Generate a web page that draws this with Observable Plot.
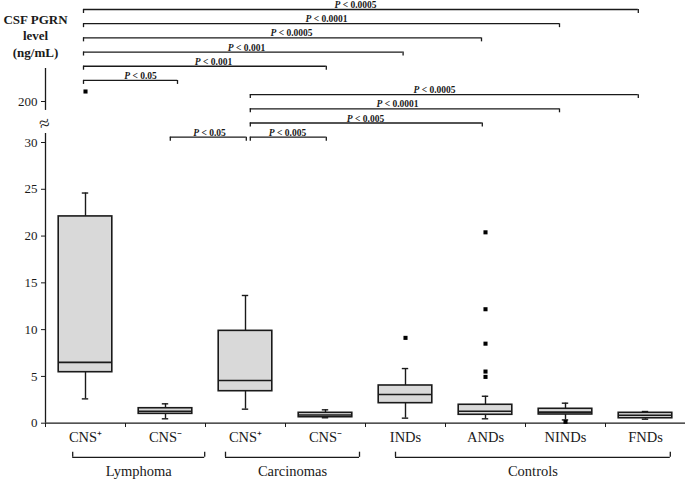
<!DOCTYPE html>
<html><head><meta charset="utf-8">
<script src="https://cdn.jsdelivr.net/npm/d3@7"></script>
<script src="https://cdn.jsdelivr.net/npm/@observablehq/plot@0.6"></script>
<style>
body{margin:0;background:#fff}
#wrap{position:relative;width:685px;height:479px}
#wrap svg{position:absolute;left:0;top:0}
</style></head><body><div id="wrap"></div>
<script>
// categories along the x axis
const categories = ["CNS⁺","CNS⁻","CNS⁺","CNS⁻","INDs","ANDs","NINDs","FNDs"];
// box plot statistics (ng/mL)
const whiskerLow  = [2.6, 0.47, 1.5, 0.58, 0.54, 0.47, 0.35, 0.43];
const q1          = [5.45, 1.0, 3.42, 0.64, 2.14, 0.9, 0.93, 0.53];
const median      = [6.5, 1.28, 4.56, 0.88, 3.07, 1.28, 1.18, 0.85];
const q3          = [22.1, 1.6, 9.87, 1.11, 4.03, 1.97, 1.54, 1.11];
const whiskerHigh = [24.6, 2.07, 13.65, 1.43, 5.84, 2.88, 2.14, 1.25];
// outliers: category index and value
const outlierCategory = [0, 4, 5, 5, 5, 5, 5, 6];
const outlierValue    = [210, 9.12, 20.4, 12.18, 8.5, 5.52, 4.95, 0.15];
// y tick labels (broken axis)
const yTicks = [0, 5, 10, 15, 20, 25, 30, 200];
// groups under the x axis (spans in category units)
const groupNames = ["Lymphoma", "Carcinomas", "Controls"];
const groupStart = [0.34, 2.25, 4.375];
const groupEnd   = [1.99, 3.925, 7.81];
// significance brackets (category units), row from top, label and label position
const bracketStart = [0.475, 0.475, 0.475, 0.475, 0.475, 0.475, 2.56, 2.56, 2.56, 2.56, 1.56];
const bracketEnd   = [7.41, 6.425, 5.45, 4.47, 3.51, 1.65, 7.41, 6.425, 5.46, 3.51, 2.51];
const bracketRow   = [0, 1, 2, 3, 4, 5, 6, 7, 8, 9, 9];
const bracketLabel = ["P < 0.0005","P < 0.0001","P < 0.0005","P < 0.001","P < 0.001","P < 0.05",
                      "P < 0.0005","P < 0.0001","P < 0.005","P < 0.005","P < 0.05"];
const bracketLabelX = [3.875, 3.5125, 3.075, 2.5125, 2.1, 1.1875, 4.8625, 4.4, 4.0, 3.025, 2.05];

const serif = "'Liberation Serif', 'Times New Roman', serif";
const ink = "#1a1a1a";
const idx = d3.range(categories.length);
const boxes = idx.map(i => ({i, low: whiskerLow[i], q1: q1[i], med: median[i], q3: q3[i], high: whiskerHigh[i]}));
const outliers = outlierValue.map((v, k) => ({i: outlierCategory[k], v}));
const groups = groupNames.map((name, k) => ({name, start: groupStart[k], end: groupEnd[k]}));
const brackets = bracketLabel.map((label, k) => ({label, start: bracketStart[k], end: bracketEnd[k], row: bracketRow[k], lx: bracketLabelX[k]}));
const hw = 0.335, cap = 0.04;

const mainChart = Plot.plot({
  width: 685, height: 479,
  marginLeft: 45, marginRight: 0, marginTop: 0, marginBottom: 56,
  style: {fontFamily: serif, fontSize: "13px", color: ink, background: "white"},
  x: {type: "linear", domain: [0, 8], range: [45, 685]},
  y: {type: "linear", domain: [0, 30, 200, 240], range: [422.7, 142, 101, 61]},
  marks: [
    Plot.axisY({ticks: yTicks, tickSize: 4, tickPadding: 4, tickFormat: d => String(d), label: null, fontSize: 13, fontFamily: serif, stroke: ink}),
    Plot.axisX({ticks: d3.range(9), tickSize: 4, tickFormat: () => "", label: null, stroke: ink}),
    Plot.ruleY([0], {x1: 0, x2: 8, stroke: ink, strokeWidth: 1.3}),
    Plot.ruleX([{a: 0, b: 67}, {a: 163, b: 233}], {x: 0, y1: "a", y2: "b", stroke: ink, strokeWidth: 1.3}),
    Plot.text(["≈"], {x: 0, y: 109, text: d => d, fontSize: 19, rotate: -15, fill: ink, dx: -1}),
    // whiskers
    Plot.ruleX(boxes, {x: d => d.i + 0.5, y1: "low", y2: "q1", stroke: ink, strokeWidth: 1.4}),
    Plot.ruleX(boxes, {x: d => d.i + 0.5, y1: "q3", y2: "high", stroke: ink, strokeWidth: 1.4}),
    Plot.ruleY(boxes, {y: "low", x1: d => d.i + 0.5 - cap, x2: d => d.i + 0.5 + cap, stroke: ink, strokeWidth: 1.4}),
    Plot.ruleY(boxes, {y: "high", x1: d => d.i + 0.5 - cap, x2: d => d.i + 0.5 + cap, stroke: ink, strokeWidth: 1.4}),
    // boxes
    Plot.rect(boxes, {x1: d => d.i + 0.5 - hw, x2: d => d.i + 0.5 + hw, y1: "q1", y2: "q3", fill: "#d9d9d9", stroke: ink, strokeWidth: 1.6}),
    Plot.ruleY(boxes, {y: "med", x1: d => d.i + 0.5 - hw, x2: d => d.i + 0.5 + hw, stroke: ink, strokeWidth: 1.6}),
    // outliers
    Plot.dot(outliers, {x: d => d.i + 0.5, y: "v", symbol: "square", r: 2.3, fill: "#000", stroke: null}),
    // category labels
    Plot.text(idx, {x: i => i + 0.5, y: 0, text: i => categories[i], dy: 14, fontSize: 14.5, fill: ink}),
    // group brackets
    Plot.ruleY(groups, {y: -3.65, x1: "start", x2: "end", stroke: ink, strokeWidth: 1.3}),
    Plot.ruleX(groups, {x: "start", y1: -3.1, y2: -3.65, stroke: ink, strokeWidth: 1.3}),
    Plot.ruleX(groups, {x: "end", y1: -3.1, y2: -3.65, stroke: ink, strokeWidth: 1.3}),
    Plot.text(groups, {x: d => (d.start + d.end) / 2, y: -3.65, text: "name", dy: 14, fontSize: 14.5, fill: ink}),
    // y label
    Plot.text(["CSF PGRN\nlevel\n(ng/mL)"], {frameAnchor: "top-left", text: d => d, dx: -10, dy: 12, textAnchor: "middle", lineAnchor: "top", fontWeight: "bold", fontSize: 13, lineHeight: 1.25, fill: ink})
  ]
});

const overlay = Plot.plot({
  width: 685, height: 479, margin: 0,
  style: {fontFamily: serif, color: ink, background: "transparent"},
  x: {type: "linear", domain: [0, 8], range: [45, 685], axis: null},
  y: {type: "linear", domain: [0, 9], range: [9, 136.7], axis: null},
  marks: [
    Plot.ruleY(brackets, {y: "row", x1: "start", x2: "end", stroke: ink, strokeWidth: 1.3}),
    Plot.ruleX(brackets, {x: "start", y1: "row", y2: d => d.row + 0.28, stroke: ink, strokeWidth: 1.3}),
    Plot.ruleX(brackets, {x: "end", y1: "row", y2: d => d.row + 0.28, stroke: ink, strokeWidth: 1.3}),
    Plot.text(brackets, {x: "lx", y: "row", text: "label", dy: -1.5, lineAnchor: "bottom", fontSize: 9.5, fontWeight: "bold", fill: ink})
  ]
});
const ns = "http://www.w3.org/2000/svg";
overlay.querySelectorAll("text").forEach(t => {
  const s = t.textContent;
  if (s.startsWith("P")) {
    t.textContent = "";
    const a = document.createElementNS(ns, "tspan");
    a.setAttribute("font-style", "italic");
    a.textContent = "P";
    t.appendChild(a);
    t.appendChild(document.createTextNode(s.slice(1)));
  }
});
const wrap = document.getElementById("wrap");
wrap.appendChild(mainChart);
wrap.appendChild(overlay);
</script></body></html>
